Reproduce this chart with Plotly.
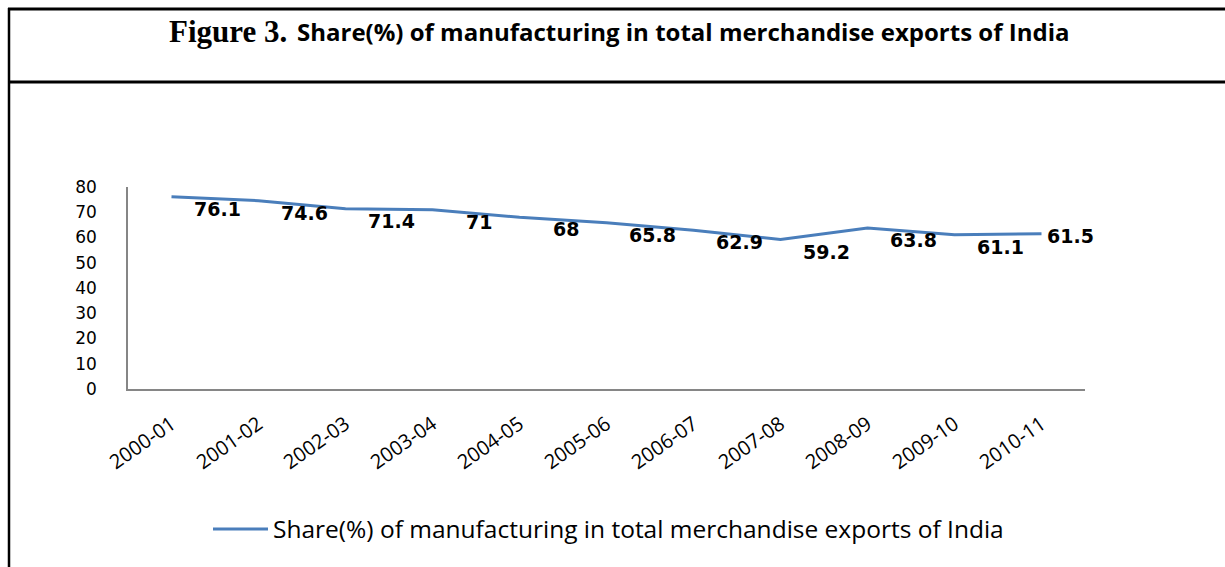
import plotly.graph_objects as go

years = ["2000-01", "2001-02", "2002-03", "2003-04", "2004-05", "2005-06",
         "2006-07", "2007-08", "2008-09", "2009-10", "2010-11"]
share = [76.1, 74.6, 71.4, 71, 68, 65.8, 62.9, 59.2, 63.8, 61.1, 61.5]
series_name = "Share(%) of manufacturing in total merchandise exports of India"
y_ticks = [0, 10, 20, 30, 40, 50, 60, 70, 80]

W, H = 1225, 567
L, R, T, B = 128, 1085, 187, 389
LINE_COLOR = "#4A7EBB"


def px(x):
    return (x - L) / (R - L)


def py(y):
    return (B - y) / (B - T)


fig = go.Figure()
fig.add_trace(go.Scatter(
    x=years, y=share, mode="lines", name=series_name,
    line=dict(color=LINE_COLOR, width=3),
))

annotations = []
for i, (yr, v) in enumerate(zip(years, share)):
    last = i == len(years) - 1
    annotations.append(dict(
        x=yr, y=v, xref="x", yref="y", text="<b>" + str(v) + "</b>", showarrow=False,
        xanchor="center", yanchor="middle",
        xshift=29 if last else 46, yshift=-2 if last else -12,
        font=dict(family="DejaVu Sans", size=19, color="#000000"),
    ))

annotations.append(dict(
    x=px(289), y=py(31), xref="paper", yref="paper", text="<b>Figure 3.</b>",
    showarrow=False, xanchor="right", yanchor="middle",
    font=dict(family="Liberation Serif", size=31, color="#000000"),
))
annotations.append(dict(
    x=px(295), y=py(31), xref="paper", yref="paper", text="<b>" + series_name + "</b>",
    showarrow=False, xanchor="left", yanchor="middle",
    font=dict(family="Open Sans", size=24, color="#000000"),
))

shapes = [
    dict(type="line", xref="paper", yref="paper", x0=px(8), x1=px(1226), y0=py(9), y1=py(9),
         line=dict(color="#000000", width=3)),
    dict(type="line", xref="paper", yref="paper", x0=px(8), x1=px(1226), y0=py(82), y1=py(82),
         line=dict(color="#000000", width=3)),
    dict(type="line", xref="paper", yref="paper", x0=px(9), x1=px(9), y0=py(8), y1=py(570),
         line=dict(color="#000000", width=2.5)),
]

fig.update_layout(
    width=W, height=H,
    margin=dict(l=L, r=W - R, t=T, b=H - B),
    paper_bgcolor="#ffffff", plot_bgcolor="#ffffff",
    font=dict(family="Open Sans", color="#000000"),
    showlegend=True,
    legend=dict(
        orientation="h", x=px(208), y=py(529), xanchor="left", yanchor="middle",
        font=dict(family="Open Sans", size=24.5, color="#000000"),
        itemwidth=55, bgcolor="rgba(0,0,0,0)",
    ),
    annotations=annotations,
    shapes=shapes,
    xaxis=dict(
        type="category", range=[-0.5, len(years) - 0.5],
        showline=True, linecolor="#868686", linewidth=1.5,
        showgrid=False, zeroline=False, ticks="",
        tickangle=-35, ticklabelstandoff=14,
        tickfont=dict(family="Open Sans", size=20, color="#000000"),
    ),
    yaxis=dict(
        range=[0, 80], tickvals=y_ticks,
        showline=True, linecolor="#868686", linewidth=1.5,
        showgrid=False, zeroline=False, ticks="",
        ticklabelstandoff=26,
        tickfont=dict(family="DejaVu Sans", size=17, color="#000000"),
    ),
)

fig.write_html("out.html")
